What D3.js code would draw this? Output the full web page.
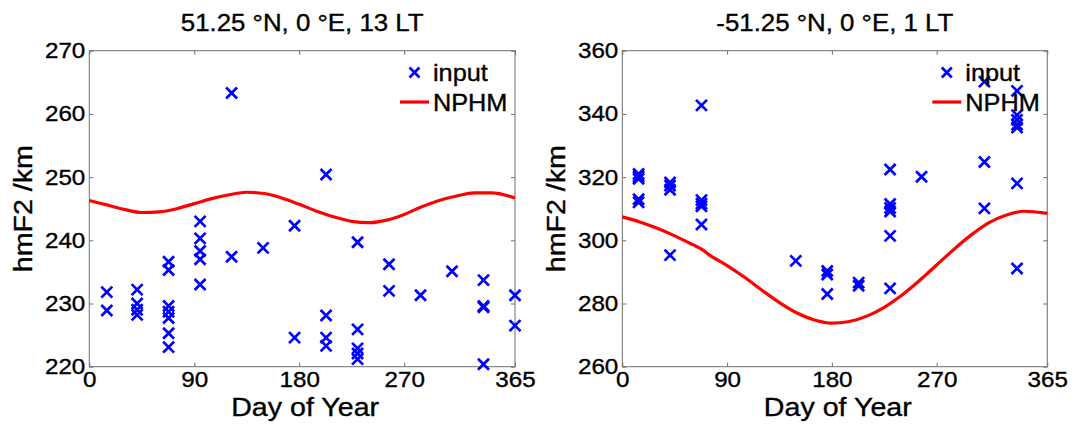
<!DOCTYPE html>
<html>
<head>
<meta charset="utf-8">
<script src="https://cdn.jsdelivr.net/npm/d3@7"></script>
<style>
  html, body { margin: 0; padding: 0; background: #fff; }
  svg { display: block; }
  text { font-family: "Liberation Sans", Arial, Helvetica, sans-serif; fill: #000; stroke: #000; stroke-width: 0.35px; }
</style>
</head>
<body>
<svg id="chart" width="1074" height="429"></svg>
<script>
// ---------- data ----------
const xTicks = [0, 90, 180, 270, 365];
const leftTitle = "51.25 °N, 0 °E, 13 LT";
const rightTitle = "-51.25 °N, 0 °E, 1 LT";
const leftYTicks = [220, 230, 240, 250, 260, 270];
const rightYTicks = [260, 280, 300, 320, 340, 360];

// Left panel: input observations (day of year, hmF2 km)
const leftInputDays = [15, 15, 41, 41, 41, 41, 68, 68, 68, 68, 68, 68, 68,
  95, 95, 95, 95, 95, 122, 122, 149, 176, 176, 203, 203, 203, 203,
  230, 230, 230, 230, 230, 257, 257, 284, 311, 338, 338, 338, 338, 365, 365];
const leftInputVals = [231.8, 228.9, 232.2, 230.0, 229.0, 228.2,
  236.6, 235.3, 229.6, 228.7, 227.7, 225.3, 223.1,
  243.0, 240.3, 238.3, 237.0, 233.0, 263.3, 237.4, 238.8, 242.3, 224.6,
  250.4, 228.1, 224.6, 223.3, 239.7, 225.9, 222.9, 222.1, 221.2,
  236.2, 232.0, 231.3, 235.1, 233.7, 229.6, 229.4, 220.4, 231.3, 226.5];

// Left panel: NPHM model curve
const leftModelDays = [0, 15, 30, 45, 60, 75, 90, 105, 120, 135, 150, 165, 180,
  195, 210, 225, 240, 255, 270, 285, 300, 315, 330, 345, 365];
const leftModelVals = [246.3, 245.6, 244.9, 244.4, 244.5, 245.0, 245.8, 246.6, 247.2,
  247.6, 247.4, 246.7, 245.7, 244.6, 243.7, 243.0, 242.8, 243.2, 244.1, 245.3,
  246.3, 247.0, 247.5, 247.5, 246.7];

// Right panel: input observations
const rightInputDays = [14, 14, 14, 14, 14, 41, 41, 41, 41, 68, 68, 68, 68, 68,
  149, 176, 176, 176, 203, 203, 230, 230, 230, 230, 230, 230, 257,
  311, 311, 311, 339, 339, 339, 339, 339, 339, 339];
const rightInputVals = [321.0, 320.2, 319.5, 313.0, 312.0, 318.3, 317.3, 316.0, 295.3,
  342.7, 312.7, 311.6, 310.8, 305.0, 293.5, 290.3, 289.2, 283.0, 286.6, 285.6,
  322.4, 311.5, 310.2, 309.1, 301.4, 284.8, 320.1, 350.2, 324.8, 310.1,
  347.3, 339.6, 338.1, 336.6, 335.7, 318.0, 291.1];

// Right panel: NPHM model curve
const rightModelDays = [0, 15, 30, 45, 60, 68, 75, 90, 105, 120, 135, 150, 165, 180,
  195, 210, 225, 240, 255, 270, 285, 300, 315, 330, 345, 365];
const rightModelVals = [307.4, 305.8, 303.8, 301.4, 298.7, 297.2, 295.3, 292.0, 288.3,
  284.2, 280.3, 277.0, 274.8, 273.8, 274.3, 276.0, 278.8, 282.6, 287.2, 292.2,
  297.2, 301.8, 305.6, 308.0, 309.2, 308.5];

// ---------- drawing ----------
const svg = d3.select("#chart");
const SX = 1.1; // horizontal stretch of the text glyphs
const frameColor = "#6e6e6e";

function stretchTicks(sel) {
  sel.each(function () {
    const t = d3.select(this);
    const x = +t.attr("x") || 0;
    t.attr("x", x / SX).attr("transform", `scale(${SX},1)`);
  });
}
function label(g, x, y, txt, size, anchor, rotate) {
  const gg = g.append("g").attr("transform", `translate(${x},${y})` + (rotate ? ` rotate(${rotate})` : ""));
  gg.append("text")
    .attr("transform", `scale(${SX},1)`)
    .attr("text-anchor", anchor)
    .style("font-size", size + "px")
    .text(txt);
  return gg;
}

function panel(opt) {
  const x0 = opt.left, x1 = opt.right, y0 = 50.7, y1 = 366.7;
  const x = d3.scaleLinear().domain([0, 365]).range([x0, x1]);
  const y = d3.scaleLinear().domain(opt.yDomain).range([y1, y0]);
  const g = svg.append("g");

  // frame
  g.append("rect").attr("x", x0).attr("y", y0).attr("width", x1 - x0).attr("height", y1 - y0)
    .attr("fill", "none").attr("stroke", frameColor).attr("stroke-width", 1);

  // axes with inward ticks
  const bottom = g.append("g").attr("transform", `translate(0,${y1})`)
    .call(d3.axisBottom(x).tickValues(xTicks).tickSize(-4).tickPadding(5).tickFormat(d3.format("d")));
  const top = g.append("g").attr("transform", `translate(0,${y0})`)
    .call(d3.axisTop(x).tickValues(xTicks).tickSize(-4).tickFormat(""));
  const leftAx = g.append("g").attr("transform", `translate(${x0},0)`)
    .call(d3.axisLeft(y).tickValues(opt.yTicks).tickSize(-4).tickPadding(4).tickFormat(d3.format("d")));
  const rightAx = g.append("g").attr("transform", `translate(${x1},0)`)
    .call(d3.axisRight(y).tickValues(opt.yTicks).tickSize(-4).tickFormat(""));
  [bottom, top, leftAx, rightAx].forEach(a => {
    a.select(".domain").remove();
    a.selectAll(".tick line").attr("stroke", frameColor);
    a.selectAll("text").style("font-size", "22px").style("font-family", '"Liberation Sans", Arial, sans-serif')
      .attr("fill", "#000").attr("stroke", "#000").attr("stroke-width", 0.35);
  });
  stretchTicks(bottom.selectAll(".tick text"));
  stretchTicks(leftAx.selectAll(".tick text"));

  // model curve
  const modelPts = opt.modelDays.map((d, i) => [d, opt.modelVals[i]]);
  g.append("path").datum(modelPts)
    .attr("fill", "none").attr("stroke", "#ff0000").attr("stroke-width", 3.2)
    .attr("d", d3.line().x(d => x(d[0])).y(d => y(d[1])).curve(d3.curveMonotoneX));

  // input markers
  const pts = opt.inDays.map((d, i) => [d, opt.inVals[i]]);
  const cross = "M-5.5,-5.5L5.5,5.5M-5.5,5.5L5.5,-5.5";
  g.selectAll(".pt").data(pts).enter().append("path")
    .attr("transform", d => `translate(${x(d[0])},${y(d[1])})`)
    .attr("d", cross).attr("stroke", "#0000ff").attr("stroke-width", 2.7).attr("fill", "none");

  // legend
  const lg = g.append("g");
  lg.append("path").attr("transform", `translate(${x1 - 100.5},${72.5})`)
    .attr("d", "M-5,-5L5,5M-5,5L5,-5").attr("stroke", "#0000ff").attr("stroke-width", 2.7).attr("fill", "none");
  label(lg, x1 - 82, 80.5, "input", 23, "start");
  lg.append("line").attr("x1", x1 - 115).attr("x2", x1 - 86).attr("y1", 102).attr("y2", 102)
    .attr("stroke", "#ff0000").attr("stroke-width", 3.2);
  label(lg, x1 - 82, 110.7, "NPHM", 23, "start");

  // titles and axis labels
  label(g, (x0 + x1) / 2, 30.5, opt.title, 23.5, "middle");
  label(g, (x0 + x1) / 2 + 3, 416, "Day of Year", 26, "middle");
  label(g, x0 - 57, (y0 + y1) / 2, "hmF2 /km", 26, "middle", -90);
}

panel({
  left: 89.3, right: 515, yDomain: [220, 270], yTicks: leftYTicks, title: leftTitle,
  inDays: leftInputDays, inVals: leftInputVals, modelDays: leftModelDays, modelVals: leftModelVals
});
panel({
  left: 622.3, right: 1047.3, yDomain: [260, 360], yTicks: rightYTicks, title: rightTitle,
  inDays: rightInputDays, inVals: rightInputVals, modelDays: rightModelDays, modelVals: rightModelVals
});
</script>
</body>
</html>
